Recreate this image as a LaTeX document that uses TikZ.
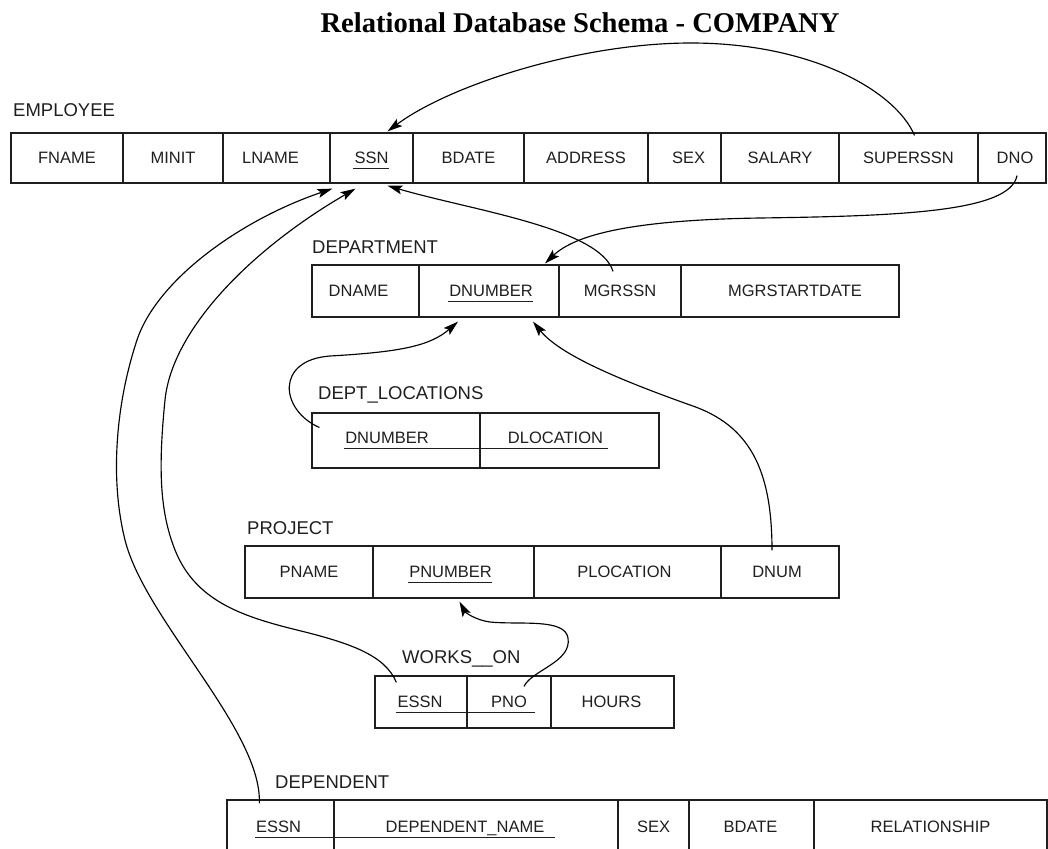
\documentclass[tikz,border=0pt]{standalone}
\usepackage{fontspec}
\setmainfont{Liberation Sans}
\newfontfamily\titlefont{Liberation Serif}
\usetikzlibrary{arrows.meta,calc}
\definecolor{ink}{rgb}{0.12,0.12,0.12}

\begin{document}
\begin{tikzpicture}[x=1pt,y=-1pt,
    cell/.style={draw=ink,line width=1.25pt,inner sep=0pt},
    field/.style={inner sep=0pt,text=ink,text height=11.8pt,text depth=0pt,font=\fontsize{16.5}{18}\selectfont},
    relname/.style={anchor=west,inner sep=0pt,text=ink,text height=13.2pt,text depth=0pt,font=\fontsize{18.5}{20}\selectfont},
    key/.style={draw=ink,line width=0.9pt},
    fk/.style={draw=black,line width=1.15pt,-{Stealth[length=15pt,width=9pt,inset=3pt]}}]

      \useasboundingbox (0,0) rectangle (1048,848);
      \clip (0,0) rectangle (1048,848);

      \def\employee{fname/FNAME/11/123/0, minit/MINIT/123/223/0, lname/LNAME/223/330/-6,
        ssn/SSN/330/413/0, bdate/BDATE/413/524/0, address/ADDRESS/524/648/0, sex/SEX/648/721/4,
        salary/SALARY/721/839/0, superssn/SUPERSSN/839/978/0, dno/DNO/978/1046/3}
      \def\department{dname/DNAME/312/419/-7, dnumber/DNUMBER/419/559/2,
        mgrssn/MGRSSN/559/681/0, mgrstartdate/MGRSTARTDATE/681/899/5}
      \def\deptLocations{dnumber/DNUMBER/312/480/-9, dlocation/DLOCATION/480/659/-14}
      \def\project{pname/PNAME/245/373/0, pnumber/PNUMBER/373/534/-3,
        plocation/PLOCATION/534/721/-3, dnum/DNUM/721/839/-3}
      \def\worksOn{essn/ESSN/375/467/-1, pno/PNO/467/551/0, hours/HOURS/551/674/-1}
      \def\dependent{essn/ESSN/227/334/-2, name/DEPENDENT\_NAME/334/618/-11,
        sex/SEX/618/689/0, bdate/BDATE/689/814/-1, relationship/RELATIONSHIP/814/1047/0}

      % title
      \node[anchor=base,font=\titlefont\bfseries\fontsize{28.6}{30}\selectfont] (title) at (580,33) {Relational Database Schema - COMPANY};

      % relation names
      \node[relname] (emp-name) at (13,110) {EMPLOYEE};
      \node[relname] (dept-name) at (312,247) {DEPARTMENT};
      \node[relname] (dl-name) at (318,393) {DEPT\_LOCATIONS};
      \node[relname] (proj-name) at (247,528) {PROJECT};
      \node[relname] (wo-name) at (402,657) {WORKS\_\_ON};
      \node[relname] (dep-name) at (275,782) {DEPENDENT};

      % draw the cells of every relation
      \foreach \id/\txt/\xa/\xb/\dx in \employee
      {
        \node[cell,minimum width={\xb-\xa},minimum height=50] (emp-\id) at ({(\xa+\xb)/2},158) {};
        \node[field,xshift=\dx] (emp-\id-t) at (emp-\id) {\txt};
      }
      \foreach \id/\txt/\xa/\xb/\dx in \department
      {
        \node[cell,minimum width={\xb-\xa},minimum height=52] (dept-\id) at ({(\xa+\xb)/2},291) {};
        \node[field,xshift=\dx] (dept-\id-t) at (dept-\id) {\txt};
      }
      \foreach \id/\txt/\xa/\xb/\dx in \deptLocations
      {
        \node[cell,minimum width={\xb-\xa},minimum height=55] (dl-\id) at ({(\xa+\xb)/2},440.5) {};
        \node[field,xshift=\dx,yshift=3] (dl-\id-t) at (dl-\id) {\txt};
      }
      \foreach \id/\txt/\xa/\xb/\dx in \project
      {
        \node[cell,minimum width={\xb-\xa},minimum height=52] (proj-\id) at ({(\xa+\xb)/2},572) {};
        \node[field,xshift=\dx] (proj-\id-t) at (proj-\id) {\txt};
      }
      \foreach \id/\txt/\xa/\xb/\dx in \worksOn
      {
        \node[cell,minimum width={\xb-\xa},minimum height=52] (wo-\id) at ({(\xa+\xb)/2},702) {};
        \node[field,xshift=\dx] (wo-\id-t) at (wo-\id) {\txt};
      }
      \foreach \id/\txt/\xa/\xb/\dx in \dependent
      {
        \node[cell,minimum width={\xb-\xa},minimum height=54] (dep-\id) at ({(\xa+\xb)/2},827) {};
        \node[field,xshift=\dx] (dep-\id-t) at (dep-\id) {\txt};
      }

      % underline the primary keys
      \foreach \a/\b/\over in {emp-ssn/emp-ssn/0, dept-dnumber/dept-dnumber/0, dl-dnumber/dl-dlocation/5,
        proj-pnumber/proj-pnumber/0, wo-essn/wo-pno/8, dep-essn/dep-name/10}
        \draw[key] ($(\a-t.base west)+(-1,5)$) -- ($(\b-t.base east)+(\over,5)$);

      % foreign keys
      \draw[fk] ($(emp-superssn.north)+(6,3)$) .. controls (895,90) and (810,43) .. (691,43)
        .. controls (580,43) and (450,85) .. ($(emp-ssn.north)+(16,-1)$);
      \draw[fk] ($(emp-dno.south)+(5,-8)$) .. controls (1010,212) and (900,216) .. (760,218)
        .. controls (630,220) and (575,235) .. ($(dept-dnumber.north)+(56,-1)$);
      \draw[fk] ($(dept-mgrssn.north)+(-7,7)$) .. controls (600,228) and (470,210) .. ($(emp-ssn.south)+(16,2)$);
      \draw[fk] ($(dl-dnumber.west)+(8,-13)$) .. controls (280,410) and (275,360) .. (330,356)
        .. controls (400,352) and (430,346) .. ($(dept-dnumber.south)+(-31,4)$);
      \draw[fk] ($(proj-dnum.north)+(-8,5)$) .. controls (772,470) and (750,425) .. (690,405)
        .. controls (620,380) and (560,355) .. ($(dept-dnumber.south)+(44,4)$);
      \draw[fk] ($(wo-pno.north)+(15,11)$) .. controls (532,670) and (572,662) .. (568,638)
        .. controls (565,618) and (520,625) .. (490,622)
        .. controls (475,620) and (465,612) .. ($(proj-pnumber.south)+(6,3)$);
      \draw[fk] ($(wo-essn.north west)+(22,7)$) .. controls (385,655) and (350,643) .. (297,630)
        .. controls (240,616) and (195,600) .. (175,550)
        .. controls (160,512) and (158,470) .. (165,400)
        .. controls (172,330) and (250,250) .. ($(emp-ssn.south)+(-16,5)$);
      \draw[fk] ($(dep-essn.north west)+(33,4)$) .. controls (262,730) and (145,620) .. (125,540)
        .. controls (109,476) and (117,400) .. (137,340)
        .. controls (157,280) and (240,220) .. ($(emp-ssn.south west)+(3,5)$);

\end{tikzpicture}
\end{document}
